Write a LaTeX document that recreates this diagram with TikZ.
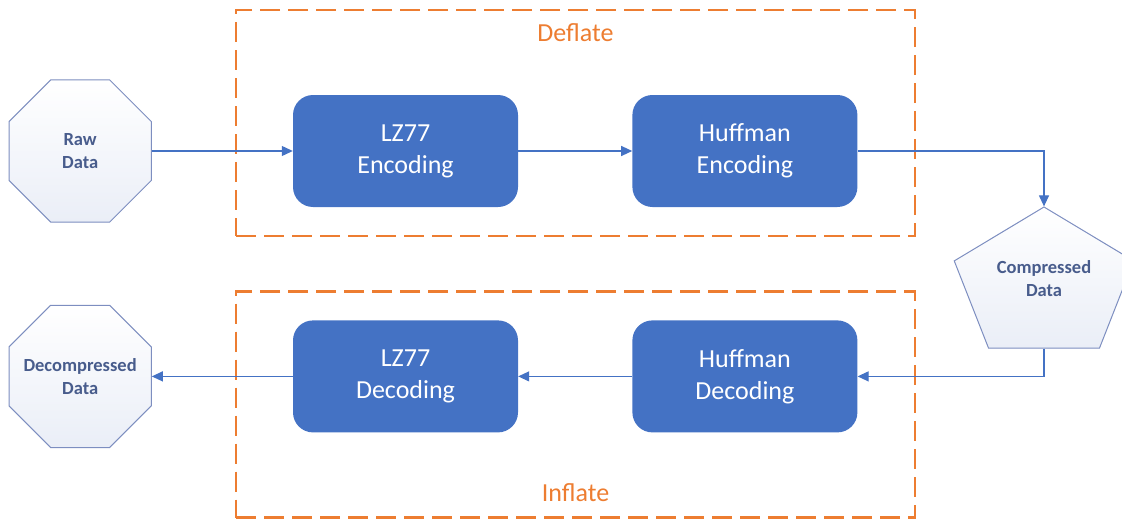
\documentclass[tikz,border=0pt]{standalone}
\usepackage{fontspec}
\setmainfont{Carlito}
\usetikzlibrary{arrows.meta,positioning,shapes.geometric}
\definecolor{boxblue}{RGB}{68,114,196}
\definecolor{dashorange}{RGB}{237,125,49}
\definecolor{edgeblue}{RGB}{125,142,192}
\definecolor{textblue}{RGB}{72,92,140}
\definecolor{shadeblue}{RGB}{234,238,247}
\begin{document}
\begin{tikzpicture}[
      x=1pt,y=-1pt,
      stepbox/.style={
         rectangle,
         rounded corners=20pt,
         fill=boxblue,
         draw=none,
         text=white,
         align=center,
         minimum width=225pt,
         minimum height=112pt,
         font=\fontsize{26}{32}\selectfont},
      octa/.style={
         regular polygon,
         regular polygon sides=8,
         draw=edgeblue,
         line width=1pt,
         top color=white,
         bottom color=shadeblue,
         inner sep=0pt,
         minimum size=154pt},
      penta/.style={
         regular polygon,
         regular polygon sides=5,
         draw=edgeblue,
         line width=1pt,
         top color=white,
         bottom color=shadeblue,
         inner sep=0pt,
         minimum size=156pt},
      smalltext/.style={
         align=center,
         text=textblue,
         font=\fontsize{18.5}{23}\selectfont\bfseries},
      groupbox/.style={
         draw=dashorange,
         line width=2.6pt,
         dash pattern=on 20pt off 8pt,
         minimum width=679pt,
         minimum height=226pt},
      grouptext/.style={
         text=dashorange,
         font=\fontsize{26}{30}\selectfont},
      myarrow/.style={-{Triangle[length=11pt,width=10pt]},draw=boxblue,line width=1.2pt},
      node distance=114pt and 114pt
      ]
      \useasboundingbox (0,0) rectangle (1122,522);

      \node[groupbox] (deflate) at (575.5,123) {};
      \node[groupbox] (inflate) at (575.5,404.5) {};
      \node[grouptext] (deflatelbl) at (575.5,33) {Deflate};
      \node[grouptext] (inflatelbl) at (575.5,493) {Inflate};

      \node[stepbox] (lzenc) at (405.5,151) {LZ77\\Encoding};
      \node[stepbox,right=of lzenc] (hufenc) {Huffman\\Encoding};
      \node[stepbox,below=113pt of hufenc] (hufdec) {Huffman\\Decoding};
      \node[stepbox,left=of hufdec] (lzdec) {LZ77\\Decoding};

      \node[octa,left=141pt of lzenc] (raw) {};
      \node[smalltext] at (raw) {Raw\\Data};
      \node[octa,left=141pt of lzdec] (decomp) {};
      \node[smalltext] at (decomp) {Decompressed\\Data};

      \node[penta,xscale=1.21] (comp) at (1044,285) {};
      \node[smalltext] at ([yshift=6pt]comp.center) {Compressed\\Data};

    \foreach \i/\j in {% start node/end node
      raw/lzenc,
	lzenc/hufenc,
	hufdec/lzdec,
	lzdec/decomp}
       \draw [myarrow] (\i) -- (\j);
    \draw [myarrow] (hufenc.east) -| (comp.corner 1);
    \draw [myarrow] (comp.side 3) |- (hufdec.east);

    \end{tikzpicture}
\end{document}
